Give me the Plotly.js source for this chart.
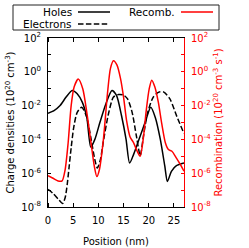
<!DOCTYPE html>
<html><head><meta charset="utf-8">
<script src="https://cdn.plot.ly/plotly-3.0.1.min.js"></script>
<style>html,body{margin:0;padding:0;background:#fff}#chart{width:249px;height:248px}</style>
</head><body><div id="chart"></div>
<script>
// Data (position in nm, densities in 1e20 cm^-3, recombination in 1e20 cm^-3 s^-1)
const holesX = [0,1.2,2.4,3.6,4.8,5.8,6.8,7.7,8.5,9.3,10.3,11.5,12.7,13.6,14.6,15.5,16.2,17.0,18.2,19.4,20.4,21.3,22.3,23.2,23.7,24.5,25.5,27];
const holesY = [3.5e-3,5.0e-3,1.0e-2,3.2e-2,7.9e-2,5.0e-2,1.6e-2,2.0e-3,3.5e-5,1.0e-4,1.0e-3,1.3e-2,7.9e-2,4.0e-2,2.5e-3,1.0e-4,4.0e-6,1.3e-5,1.3e-4,1.3e-3,7.9e-3,2.0e-3,1.0e-4,2.5e-6,3.2e-7,1.3e-6,2.8e-6,4.0e-6];
const electronsX = [0,1.0,2.0,2.9,3.4,3.8,4.2,4.6,5.1,5.8,6.7,7.6,8.5,9.3,9.8,10.4,11.0,12.0,13.0,14.0,15.0,15.8,16.7,17.6,18.3,19.0,19.8,20.9,22.0,23.0,24.2,25.6,27];
const electronsY = [1.1e-7,6.3e-8,3.0e-8,1.6e-8,3.5e-8,2.0e-7,2.5e-6,3.2e-5,5.0e-4,4.0e-3,7.9e-3,2.5e-3,1.3e-4,6.3e-6,2.0e-6,6.3e-6,7.9e-5,3.2e-3,3.2e-2,4.5e-2,4.2e-2,2.5e-2,4.0e-3,1.3e-4,1.1e-5,2.0e-4,4.0e-3,3.2e-2,6.3e-2,6.3e-2,2.5e-2,2.2e-3,2.2e-4];
const recombX = [0,1.0,2.0,2.8,3.4,4.0,4.6,5.2,6.0,6.9,7.7,8.5,9.2,9.7,10.2,11.0,11.8,12.4,13.0,13.7,14.4,15.0,15.6,16.3,17.0,17.7,18.3,18.9,19.5,20.1,20.6,21.2,21.9,22.6,23.3,23.9,24.6,25.5,26.3,27];
const recombY = [7.1e-7,5.0e-7,3.5e-7,3.5e-7,1.6e-6,6.3e-5,1.0e-2,1.3e-1,3.7e-1,1.0e-1,4.0e-3,7.9e-5,2.5e-6,6.3e-7,1.6e-6,1.0e-4,5.0e-2,1.6,4.5,2.5,4.0e-1,3.2e-2,1.3e-3,1.4e-4,6.3e-5,2.0e-5,1.0e-5,1.0e-4,5.0e-3,1.0e-1,3.2e-1,1.3e-1,1.6e-2,7.9e-4,6.3e-5,2.5e-5,2.0e-5,7.9e-6,3.2e-6,1.3e-6];
const xTickVals = [0,5,10,15,20,25];
const yTickVals = [1e2,1e0,1e-2,1e-4,1e-6,1e-8];
const yTickText = ['10<sup>2</sup>','10<sup>0</sup>','10<sup>-2</sup>','10<sup>-4</sup>','10<sup>-6</sup>','10<sup>-8</sup>'];
const yMinorVals = [1e1,1e-1,1e-3,1e-5,1e-7];
const legendNames = ['Holes','Electrons','Recomb.'];

const FONT = 'DejaVu Sans, sans-serif';
const W = 249, H = 248, L = 48, R = 65, T = 38, B = 41;
const pw = W - L - R, ph = H - T - B;
const px = v => (v - L) / pw;
const py = v => (H - B - v) / ph;

const traces = [
  {x: holesX, y: holesY, name: legendNames[0], mode: 'lines', line: {color: '#000', width: 1.5, shape: 'spline', smoothing: 0.7}, showlegend: false},
  {x: electronsX, y: electronsY, name: legendNames[1], mode: 'lines', line: {color: '#000', width: 1.5, dash: '5.5px,2.4px', shape: 'spline', smoothing: 0.7}, showlegend: false},
  {x: recombX, y: recombY, name: legendNames[2], mode: 'lines', yaxis: 'y2', line: {color: '#ff0000', width: 1.5, shape: 'spline', smoothing: 0.7}, showlegend: false}
];

const shapes = [
  {type: 'rect', xref: 'paper', yref: 'paper', x0: px(13), x1: px(219), y0: py(5), y1: py(30), line: {color: '#222', width: 1}, fillcolor: 'rgba(0,0,0,0)'},
  {type: 'line', xref: 'paper', yref: 'paper', x0: px(78), x1: px(110), y0: py(12), y1: py(12), line: {color: '#000', width: 1.5}},
  {type: 'line', xref: 'paper', yref: 'paper', x0: px(78), x1: px(108), y0: py(24), y1: py(24), line: {color: '#000', width: 1.5, dash: '5.5px,2.4px'}},
  {type: 'line', xref: 'paper', yref: 'paper', x0: px(181), x1: px(213), y0: py(12), y1: py(12), line: {color: '#ff0000', width: 1.5}}
];
const annotations = [
  {xref: 'paper', yref: 'paper', x: px(74), y: py(12), xanchor: 'right', yanchor: 'middle', text: legendNames[0], showarrow: false, font: {family: FONT, size: 10.5, color: '#000'}},
  {xref: 'paper', yref: 'paper', x: px(74), y: py(24), xanchor: 'right', yanchor: 'middle', text: legendNames[1], showarrow: false, font: {family: FONT, size: 10.5, color: '#000'}},
  {xref: 'paper', yref: 'paper', x: px(177), y: py(12), xanchor: 'right', yanchor: 'middle', text: legendNames[2], showarrow: false, font: {family: FONT, size: 10.5, color: '#000'}}
];

const layout = {
  width: W, height: H,
  margin: {l: L, r: R, t: T, b: B, pad: 0, autoexpand: false},
  paper_bgcolor: '#fff', plot_bgcolor: '#fff',
  font: {family: FONT, size: 10, color: '#000'},
  showlegend: false,
  xaxis: {
    range: [0, 27], tickvals: xTickVals, ticks: 'outside', ticklen: 4, tickwidth: 1, tickcolor: 'rgba(0,0,0,0)',
    minor: {tickvals: xTickVals, ticks: 'inside', ticklen: 4, tickwidth: 1, tickcolor: '#000', showgrid: false},
    showline: true, linecolor: '#000', linewidth: 1, mirror: 'ticks', showgrid: false, zeroline: false,
    tickfont: {family: FONT, size: 10, color: '#000'}, automargin: true,
    title: {text: 'Position (nm)', font: {family: FONT, size: 10, color: '#000'}, standoff: 12}
  },
  yaxis: {
    type: 'log', range: [-8, 2], tickvals: yTickVals, ticktext: yTickText, ticks: 'inside', ticklen: 3, tickcolor: '#000',
    minor: {tickvals: yMinorVals, ticks: 'inside', ticklen: 3, tickcolor: '#000', showgrid: false},
    showline: true, linecolor: '#000', linewidth: 1, showgrid: false, zeroline: false,
    tickfont: {family: FONT, size: 10, color: '#000'}, ticklabelstandoff: 4,
    title: {text: 'Charge densities (10<sup>20</sup> cm<sup>-3</sup>)', font: {family: FONT, size: 10, color: '#000'}, standoff: 4}
  },
  yaxis2: {
    type: 'log', range: [-8, 2], overlaying: 'y', side: 'right', tickvals: yTickVals, ticktext: yTickText,
    ticks: 'inside', ticklen: 3, tickcolor: '#ff0000',
    minor: {tickvals: yMinorVals, ticks: 'inside', ticklen: 3, tickcolor: '#ff0000', showgrid: false},
    showline: true, linecolor: '#ff0000', linewidth: 1, showgrid: false, zeroline: false,
    tickfont: {family: FONT, size: 10, color: '#ff0000'}, ticklabelstandoff: 4,
    title: {text: 'Recombination (10<sup>20</sup> cm<sup>-3</sup> s<sup>-1</sup>)', font: {family: FONT, size: 10, color: '#ff0000'}, standoff: 4}
  },
  shapes: shapes,
  annotations: annotations
};

Plotly.newPlot('chart', traces, layout, {staticPlot: true, displayModeBar: false});
</script></body></html>
